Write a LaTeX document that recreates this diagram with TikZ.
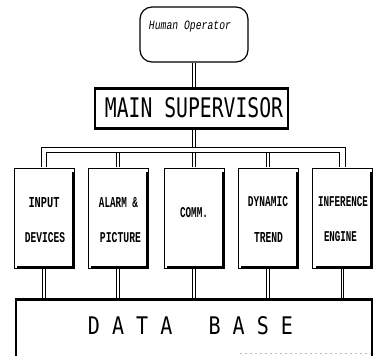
\documentclass[tikz,border=0pt]{standalone}
\usepackage{fontspec}
\usepackage{graphicx}
\newfontfamily\supfont{DejaVu Sans Mono}
\newfontfamily\boxfont{Liberation Mono}
\newcommand{\lbl}[2]{\resizebox{#1}{10pt}{\boxfont\bfseries #2}}
\begin{document}
\begin{tikzpicture}[x=1pt,y=-1pt,
  dbl/.style={draw, double, double distance=1.6pt, line width=1pt},
  pipe/.style={draw, double, double distance=4.2pt, line width=1pt, shorten <=0.45pt, shorten >=0.45pt},
  hobox/.style={draw, line width=1.2pt, rounded corners=12pt, minimum width=108pt, minimum height=55pt, inner sep=0pt},
  supbox/.style={draw, line width=1.8pt, minimum width=193pt, minimum height=39pt, inner sep=0pt},
  modbox/.style={draw, line width=0.9pt, minimum width=60pt, minimum height=100pt, inner sep=0pt,
    path picture={\draw[line width=5pt] ([yshift=-4pt]path picture bounding box.north east) -- (path picture bounding box.south east) -- ([xshift=3pt]path picture bounding box.south west);}},
  dbbox/.style={draw, line width=1.5pt, minimum width=356pt, minimum height=80pt, inner sep=0pt},
  txt/.style={inner sep=0pt}]
\useasboundingbox (0,0) rectangle (373,356);
\clip (0,0) rectangle (373,356);

% Human operator
\node[hobox] (ho) at (194,34.5) {};
\node[txt] (hot) at (190,27) {\resizebox{82pt}{8.5pt}{\boxfont\itshape Human Operator}};

% Main supervisor
\node[supbox] (sup) at (191.5,108.5) {};
\draw[line width=3pt] (sup.north west) -- (sup.north east);
\draw[line width=3pt] (sup.south west) -- (sup.south east);
\node[txt] (supt) at (194,107.5) {\resizebox{178pt}{20pt}{\supfont MAIN SUPERVISOR}};

% Modules
\node[modbox] (m1) at (44,218) {};
\node[modbox] (m2) at (118,218) {};
\node[modbox] (m3) at (194,218) {};
\node[modbox] (m4) at (268,218) {};
\node[modbox] (m5) at (342.5,218) {};

\node[txt] (m1a) at (44,203) {\lbl{31pt}{INPUT}};
\node[txt] (m1b) at (45,238) {\lbl{40pt}{DEVICES}};
\node[txt] (m2a) at (118.5,203) {\lbl{39pt}{ALARM \&}};
\node[txt] (m2b) at (120.5,238) {\lbl{41pt}{PICTURE}};
\node[txt] (m3a) at (194,213) {\lbl{28pt}{COMM.}};
\node[txt] (m4a) at (268,202) {\lbl{40pt}{DYNAMIC}};
\node[txt] (m4b) at (268.5,237) {\lbl{29pt}{TREND}};
\node[txt] (m5a) at (343,202) {\lbl{50pt}{INFERENCE}};
\node[txt] (m5b) at (340.5,237) {\lbl{33pt}{ENGINE}};

% Data base
\node[dbbox] (db) at (194,340) {};
\draw[line width=3pt] (db.north west) -- (db.north east);
\node[txt] (dbt) at (190.5,326) {\resizebox{205pt}{18pt}{\supfont D~A~T~A~~~B~A~S~E}};
\draw[gray!50, line width=0.6pt, dash pattern=on 2pt off 3pt] (240,353.5) -- (371,353.5);

% Connectors
\draw[dbl, shorten <=0.6pt, shorten >=1.5pt] (ho.south) -- (ho.south |- sup.north);
\draw[dbl, shorten <=1.5pt] (m3.north |- sup.south) -- ++(0,19.3);
\draw[dbl, shorten <=0.45pt] (m2.north) -- ++(0,-14.4);
\draw[dbl, shorten <=0.45pt] (m3.north) -- ++(0,-14.4);
\draw[dbl, shorten <=0.45pt] (m4.north) -- ++(0,-14.4);
\draw[pipe] (m1.north) -- ++(0,-17.5) -| (m5.north);
\foreach \m in {m1,m2,m3,m4,m5}
  \draw[dbl, shorten <=0.45pt, shorten >=1.5pt] (\m.south) -- (\m.south |- db.north);
\end{tikzpicture}
\end{document}
